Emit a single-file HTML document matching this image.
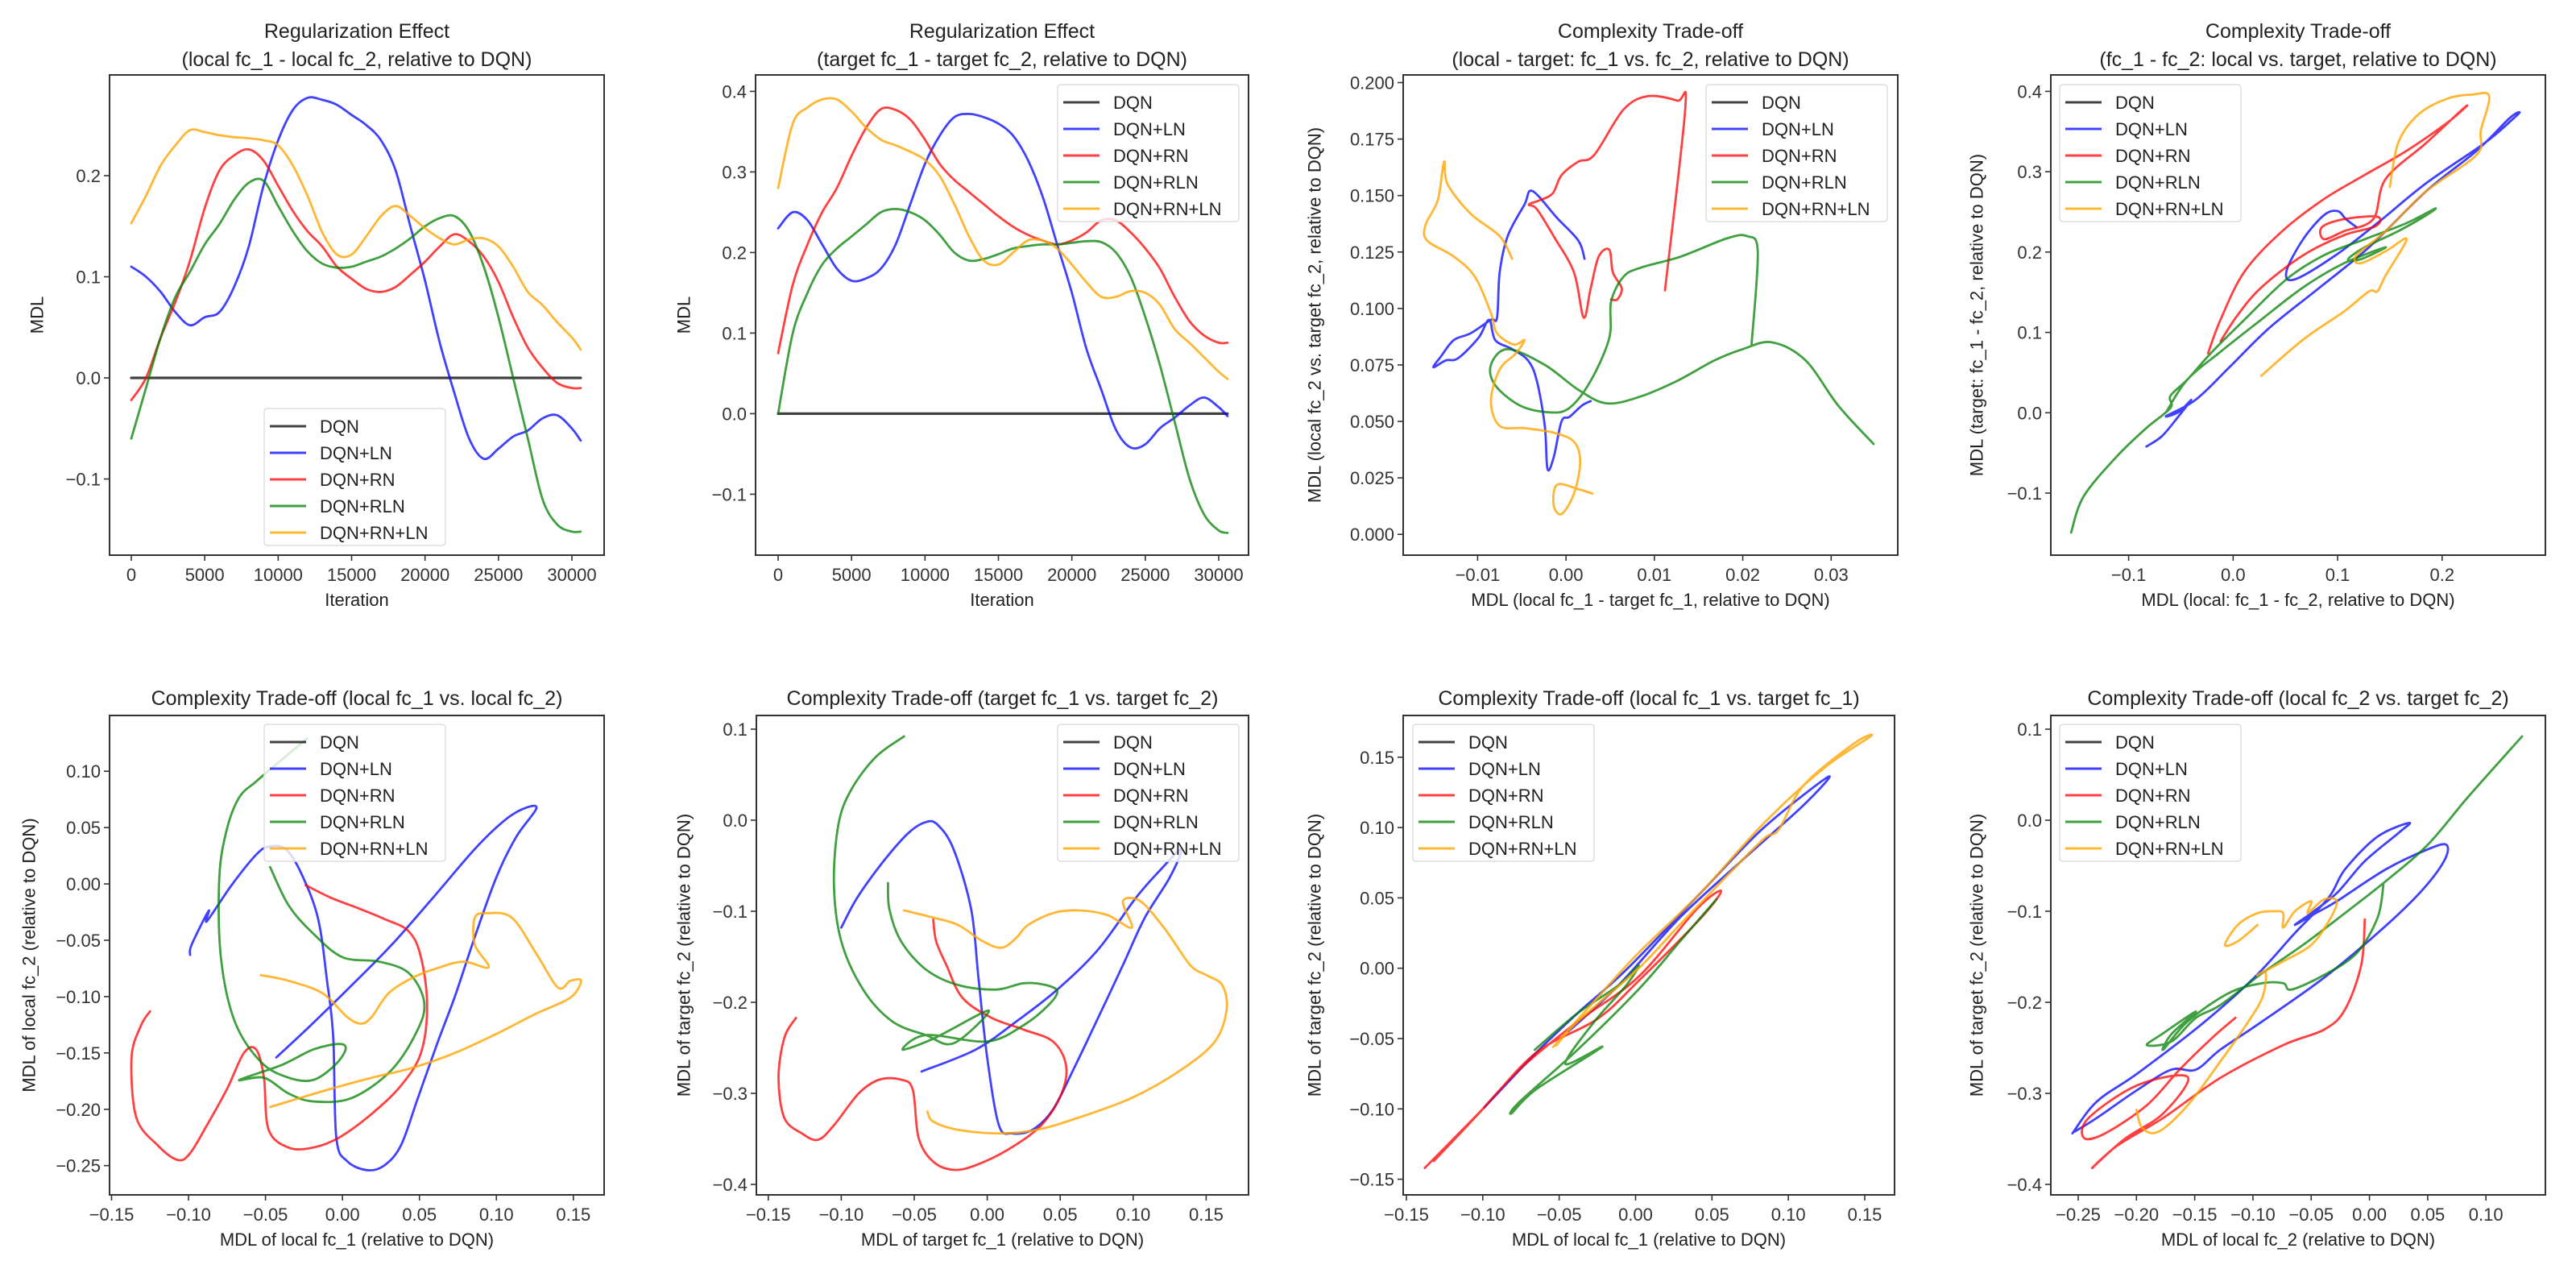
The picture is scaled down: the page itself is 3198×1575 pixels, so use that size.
<!DOCTYPE html>
<html><head><meta charset="utf-8">
<style>
html,body{margin:0;padding:0;background:#fff;}
svg{display:block;font-family:"Liberation Sans","DejaVu Sans",sans-serif;}
</style></head>
<body>
<svg id="fig" width="3198" height="1575" viewBox="0 0 3198 1575" xmlns="http://www.w3.org/2000/svg"></svg>
<script>
// ---------- data ----------
const seriesNames = ["DQN","DQN+LN","DQN+RN","DQN+RLN","DQN+RN+LN"];
const iterations = [0,1000,2000,3000,4000,5000,6000,7000,8000,9000,10000,11000,12000,13000,14000,15000,16000,17000,18000,19000,20000,21000,22000,23000,24000,25000,26000,27000,28000,29000,30000,30600];

// Panel 1: local fc_1 - local fc_2
const p1DQN  = iterations.map(()=>0);
const p1LN   = [0.11,0.10,0.085,0.065,0.052,0.06,0.065,0.09,0.13,0.19,0.235,0.265,0.277,0.275,0.27,0.26,0.25,0.235,0.205,0.15,0.096,0.035,-0.015,-0.06,-0.08,-0.07,-0.058,-0.052,-0.04,-0.037,-0.05,-0.062];
const p1RN   = [-0.022,0.0,0.04,0.075,0.116,0.168,0.205,0.22,0.226,0.215,0.19,0.165,0.145,0.13,0.11,0.098,0.088,0.085,0.09,0.102,0.115,0.13,0.142,0.135,0.12,0.095,0.06,0.03,0.01,-0.005,-0.01,-0.01];
const p1RLN  = [-0.06,-0.01,0.04,0.08,0.105,0.132,0.152,0.176,0.193,0.195,0.17,0.145,0.125,0.113,0.109,0.11,0.115,0.12,0.128,0.138,0.15,0.158,0.16,0.145,0.11,0.06,0.0,-0.06,-0.12,-0.145,-0.152,-0.152];
const p1RNLN = [0.153,0.18,0.21,0.23,0.245,0.243,0.24,0.238,0.237,0.235,0.23,0.21,0.18,0.144,0.122,0.122,0.14,0.16,0.17,0.16,0.148,0.138,0.132,0.137,0.138,0.13,0.11,0.085,0.072,0.055,0.04,0.028];

// Panel 2: target fc_1 - target fc_2
const p2DQN  = iterations.map(()=>0);
const p2LN   = [0.23,0.25,0.24,0.21,0.18,0.165,0.168,0.18,0.21,0.26,0.31,0.345,0.368,0.372,0.368,0.36,0.345,0.315,0.27,0.21,0.15,0.08,0.03,-0.02,-0.042,-0.038,-0.018,-0.005,0.01,0.02,0.008,-0.003];
const p2RN   = [0.075,0.16,0.21,0.25,0.28,0.32,0.355,0.378,0.377,0.365,0.34,0.31,0.29,0.275,0.26,0.245,0.232,0.222,0.215,0.21,0.215,0.225,0.24,0.24,0.225,0.205,0.18,0.145,0.115,0.097,0.088,0.088];
const p2RLN  = [0.0,0.1,0.15,0.185,0.205,0.22,0.235,0.25,0.254,0.25,0.24,0.222,0.2,0.19,0.192,0.198,0.205,0.208,0.21,0.21,0.212,0.214,0.213,0.2,0.17,0.12,0.06,-0.01,-0.08,-0.125,-0.145,-0.148];
const p2RNLN = [0.28,0.36,0.38,0.39,0.39,0.375,0.355,0.34,0.333,0.325,0.315,0.295,0.26,0.22,0.19,0.185,0.2,0.215,0.215,0.205,0.185,0.163,0.145,0.145,0.152,0.15,0.135,0.105,0.088,0.07,0.052,0.043];

// Panel 3: local-target fc_1 vs fc_2
const p3LN = [[0.0021,0.122],[0.0014,0.130],[-0.001,0.140],[-0.0038,0.152],[-0.0047,0.146],[-0.0066,0.132],[-0.0075,0.116],[-0.0078,0.096],[-0.0085,0.095],[-0.0108,0.089],[-0.0127,0.086],[-0.0141,0.079],[-0.015,0.074],[-0.0136,0.077],[-0.0122,0.078],[-0.0099,0.087],[-0.0087,0.095],[-0.008,0.086],[-0.0061,0.082],[-0.0043,0.077],[-0.0033,0.068],[-0.0024,0.048],[-0.0021,0.029],[-0.0014,0.034],[-0.0005,0.050],[0.0004,0.052],[0.0018,0.057],[0.0028,0.059]];
const p3RN = [[0.0112,0.108],[0.0135,0.189],[0.0126,0.192],[0.0093,0.194],[0.0065,0.188],[0.0032,0.168],[0.0014,0.165],[-0.0005,0.159],[-0.0015,0.151],[-0.0029,0.148],[-0.0042,0.146],[-0.0033,0.144],[-0.0014,0.132],[0.0009,0.116],[0.002,0.096],[0.0028,0.109],[0.0037,0.123],[0.0049,0.126],[0.0053,0.116],[0.0063,0.109],[0.0058,0.104],[0.0051,0.104]];
const p3RLN = [[0.021,0.084],[0.0217,0.125],[0.0205,0.132],[0.0182,0.131],[0.013,0.123],[0.0084,0.118],[0.0065,0.114],[0.0051,0.103],[0.0049,0.087],[0.0028,0.068],[0.0004,0.056],[-0.0019,0.054],[-0.0052,0.057],[-0.008,0.066],[-0.0085,0.075],[-0.0066,0.082],[-0.0024,0.075],[0.0014,0.064],[0.0046,0.058],[0.0084,0.061],[0.0126,0.068],[0.0168,0.077],[0.02,0.082],[0.0233,0.085],[0.0271,0.077],[0.0308,0.057],[0.0348,0.040]];
const p3RNLN = [[-0.0061,0.122],[-0.0075,0.132],[-0.0108,0.142],[-0.0134,0.155],[-0.0138,0.165],[-0.0145,0.148],[-0.0159,0.137],[-0.0157,0.130],[-0.0127,0.123],[-0.0103,0.114],[-0.0085,0.098],[-0.0078,0.089],[-0.0059,0.084],[-0.0047,0.086],[-0.0057,0.080],[-0.0075,0.073],[-0.0085,0.059],[-0.0075,0.048],[-0.0047,0.047],[-0.0014,0.045],[0.0009,0.041],[0.0016,0.032],[0.0009,0.018],[-0.0005,0.009],[-0.0014,0.013],[-0.001,0.022],[0.0014,0.020],[0.003,0.018]];

// Panel 4: fc_1-fc_2 local vs target
const p4LN = [[-0.083,-0.042],[-0.068,-0.029],[-0.052,-0.004],[-0.04,0.016],[-0.052,0.001],[-0.064,-0.004],[-0.036,0.016],[-0.004,0.056],[0.035,0.106],[0.083,0.156],[0.13,0.206],[0.185,0.276],[0.233,0.326],[0.264,0.366],[0.274,0.374],[0.268,0.366],[0.241,0.336],[0.185,0.286],[0.138,0.236],[0.098,0.196],[0.059,0.166],[0.051,0.176],[0.067,0.216],[0.087,0.246],[0.1,0.251],[0.108,0.241],[0.118,0.231]];
const p4RN = [[-0.024,0.074],[-0.012,0.116],[0.011,0.176],[0.047,0.226],[0.087,0.266],[0.126,0.296],[0.166,0.326],[0.205,0.361],[0.223,0.381],[0.218,0.376],[0.185,0.336],[0.146,0.291],[0.134,0.241],[0.106,0.226],[0.087,0.216],[0.085,0.231],[0.106,0.241],[0.138,0.244],[0.136,0.232],[0.106,0.221],[0.067,0.196],[0.027,0.156],[0.004,0.121],[-0.012,0.089]];
const p4RLN = [[-0.155,-0.149],[-0.143,-0.104],[-0.111,-0.054],[-0.083,-0.019],[-0.06,0.006],[-0.06,0.021],[-0.044,0.041],[-0.02,0.076],[0.011,0.116],[0.051,0.166],[0.087,0.196],[0.126,0.216],[0.166,0.236],[0.193,0.254],[0.185,0.246],[0.158,0.226],[0.126,0.206],[0.11,0.191],[0.122,0.191],[0.146,0.206],[0.106,0.186],[0.067,0.156],[0.027,0.116],[-0.012,0.076],[-0.044,0.041],[-0.064,0.001]];
const p4RNLN = [[0.027,0.046],[0.067,0.091],[0.106,0.126],[0.13,0.151],[0.138,0.151],[0.146,0.171],[0.166,0.216],[0.146,0.201],[0.122,0.186],[0.118,0.196],[0.146,0.226],[0.185,0.276],[0.233,0.321],[0.237,0.351],[0.245,0.394],[0.229,0.396],[0.205,0.391],[0.177,0.371],[0.158,0.336],[0.150,0.281]];

// Panel 5: local fc_1 vs local fc_2
const p5LN = [[-0.099,-0.063],[-0.098,-0.054],[-0.087,-0.024],[-0.088,-0.033],[-0.072,-0.001],[-0.056,0.026],[-0.048,0.033],[-0.037,0.031],[-0.027,0.010],[-0.016,-0.030],[-0.010,-0.086],[-0.006,-0.136],[-0.004,-0.225],[0.003,-0.246],[0.016,-0.254],[0.027,-0.25],[0.038,-0.232],[0.049,-0.19],[0.062,-0.14],[0.073,-0.1],[0.086,-0.047],[0.1,0.006],[0.113,0.042],[0.126,0.067],[0.118,0.067],[0.105,0.056],[0.086,0.031],[0.059,-0.012],[0.032,-0.054],[0.006,-0.09],[-0.021,-0.126],[-0.043,-0.154]];
const p5RN = [[-0.125,-0.113],[-0.131,-0.126],[-0.137,-0.154],[-0.134,-0.207],[-0.12,-0.232],[-0.107,-0.245],[-0.099,-0.239],[-0.088,-0.214],[-0.075,-0.182],[-0.064,-0.150],[-0.056,-0.147],[-0.051,-0.172],[-0.048,-0.218],[-0.035,-0.234],[-0.019,-0.234],[-0.002,-0.225],[0.019,-0.204],[0.038,-0.179],[0.051,-0.15],[0.055,-0.108],[0.051,-0.065],[0.043,-0.042],[0.027,-0.031],[0.011,-0.022],[-0.008,-0.012],[-0.024,-0.001]];
const p5RLN = [[-0.023,0.129],[-0.037,0.113],[-0.056,0.091],[-0.067,0.077],[-0.075,0.049],[-0.08,0.006],[-0.079,-0.065],[-0.07,-0.122],[-0.053,-0.158],[-0.035,-0.172],[-0.019,-0.174],[-0.005,-0.161],[0.002,-0.147],[-0.002,-0.142],[-0.019,-0.147],[-0.04,-0.161],[-0.067,-0.174],[-0.051,-0.172],[-0.035,-0.186],[-0.019,-0.193],[0.006,-0.19],[0.032,-0.165],[0.049,-0.129],[0.053,-0.104],[0.043,-0.079],[0.024,-0.069],[0.0,-0.065],[-0.019,-0.044],[-0.035,-0.019],[-0.047,0.015]];
const p5RNLN = [[-0.053,-0.081],[-0.035,-0.086],[-0.013,-0.097],[0.003,-0.118],[0.012,-0.124],[0.019,-0.118],[0.03,-0.097],[0.046,-0.083],[0.059,-0.076],[0.078,-0.069],[0.095,-0.074],[0.086,-0.054],[0.086,-0.03],[0.094,-0.026],[0.11,-0.03],[0.126,-0.062],[0.14,-0.092],[0.148,-0.086],[0.155,-0.086],[0.148,-0.101],[0.126,-0.115],[0.1,-0.133],[0.073,-0.15],[0.046,-0.163],[0.019,-0.172],[-0.008,-0.182],[-0.035,-0.193],[-0.047,-0.198]];

// Panel 6: target fc_1 vs target fc_2
const p6LN = [[-0.1,-0.118],[-0.089,-0.085],[-0.071,-0.045],[-0.054,-0.014],[-0.042,-0.002],[-0.034,-0.005],[-0.023,-0.032],[-0.011,-0.098],[-0.006,-0.173],[0.0,-0.261],[0.008,-0.335],[0.017,-0.344],[0.031,-0.34],[0.045,-0.318],[0.059,-0.274],[0.076,-0.217],[0.093,-0.159],[0.108,-0.107],[0.125,-0.063],[0.133,-0.032],[0.119,-0.054],[0.102,-0.085],[0.076,-0.142],[0.048,-0.186],[0.02,-0.221],[-0.008,-0.252],[-0.045,-0.276]];
const p6RN = [[-0.131,-0.217],[-0.139,-0.239],[-0.143,-0.283],[-0.139,-0.327],[-0.127,-0.344],[-0.116,-0.351],[-0.105,-0.335],[-0.088,-0.3],[-0.074,-0.285],[-0.059,-0.285],[-0.051,-0.296],[-0.047,-0.349],[-0.037,-0.375],[-0.023,-0.384],[-0.008,-0.379],[0.014,-0.362],[0.037,-0.335],[0.051,-0.3],[0.054,-0.269],[0.045,-0.243],[0.025,-0.23],[0.003,-0.217],[-0.017,-0.195],[-0.028,-0.159],[-0.035,-0.133],[-0.037,-0.109]];
const p6RLN = [[-0.057,0.092],[-0.076,0.07],[-0.093,0.034],[-0.102,-0.005],[-0.105,-0.071],[-0.1,-0.133],[-0.085,-0.186],[-0.065,-0.221],[-0.042,-0.236],[-0.023,-0.245],[0.001,-0.209],[-0.037,-0.24],[-0.058,-0.252],[-0.042,-0.236],[0.0,-0.243],[0.025,-0.225],[0.042,-0.203],[0.048,-0.188],[0.04,-0.181],[0.025,-0.179],[0.006,-0.186],[-0.02,-0.181],[-0.042,-0.164],[-0.059,-0.133],[-0.067,-0.098],[-0.068,-0.069]];
const p6RNLN = [[-0.057,-0.099],[-0.037,-0.107],[-0.02,-0.115],[-0.003,-0.133],[0.01,-0.14],[0.02,-0.129],[0.028,-0.115],[0.045,-0.102],[0.062,-0.099],[0.082,-0.104],[0.099,-0.118],[0.093,-0.089],[0.105,-0.089],[0.122,-0.12],[0.139,-0.159],[0.15,-0.17],[0.161,-0.181],[0.164,-0.208],[0.156,-0.243],[0.133,-0.274],[0.099,-0.305],[0.062,-0.327],[0.034,-0.34],[0.008,-0.344],[-0.02,-0.34],[-0.037,-0.331],[-0.041,-0.32]];

// Panel 7: local fc_1 vs target fc_1
const p7LN = [[-0.099,-0.099],[-0.065,-0.06],[-0.038,-0.032],[-0.006,-0.001],[0.043,0.054],[0.083,0.099],[0.126,0.136],[0.11,0.116],[0.069,0.076],[0.029,0.036],[-0.011,-0.012],[-0.044,-0.045]];
const p7RN = [[-0.138,-0.142],[-0.1,-0.1],[-0.065,-0.06],[-0.025,-0.036],[0.002,-0.009],[0.043,0.036],[0.056,0.055],[0.04,0.042],[0.002,-0.006],[-0.038,-0.038],[-0.076,-0.072],[-0.105,-0.106],[-0.132,-0.137]];
const p7RLN = [[-0.066,-0.058],[-0.038,-0.032],[-0.011,-0.012],[0.002,0.002],[-0.006,-0.012],[-0.027,-0.038],[-0.046,-0.068],[-0.022,-0.056],[-0.065,-0.086],[-0.081,-0.103],[-0.076,-0.095],[-0.038,-0.058],[0.002,-0.015],[0.029,0.019],[0.053,0.049]];
const p7RNLN = [[-0.054,-0.056],[-0.025,-0.021],[0.002,0.011],[0.043,0.054],[0.083,0.102],[0.123,0.142],[0.154,0.165],[0.142,0.159],[0.11,0.130],[0.094,0.099],[0.085,0.093],[0.069,0.076],[0.029,0.031],[0.002,0.0],[-0.038,-0.038],[-0.052,-0.055]];

// Panel 8: local fc_2 vs target fc_2
const p8LN = [[-0.255,-0.344],[-0.234,-0.309],[-0.199,-0.278],[-0.145,-0.225],[-0.099,-0.173],[-0.064,-0.124],[-0.035,-0.085],[-0.021,-0.054],[0.007,-0.018],[0.034,-0.003],[0.025,-0.014],[-0.004,-0.045],[-0.028,-0.08],[-0.05,-0.102],[-0.064,-0.115],[-0.046,-0.102],[-0.028,-0.089],[0.014,-0.054],[0.05,-0.032],[0.066,-0.027],[0.064,-0.045],[0.043,-0.08],[0.007,-0.124],[-0.039,-0.173],[-0.092,-0.221],[-0.128,-0.252],[-0.149,-0.274],[-0.17,-0.274],[-0.199,-0.296],[-0.234,-0.327],[-0.253,-0.342]];
const p8RN = [[-0.004,-0.109],[-0.007,-0.159],[-0.021,-0.208],[-0.039,-0.23],[-0.074,-0.247],[-0.128,-0.283],[-0.177,-0.327],[-0.216,-0.357],[-0.238,-0.382],[-0.21,-0.35],[-0.177,-0.322],[-0.156,-0.282],[-0.199,-0.291],[-0.241,-0.327],[-0.245,-0.349],[-0.227,-0.344],[-0.191,-0.313],[-0.163,-0.274],[-0.135,-0.239],[-0.115,-0.217]];
const p8RLN = [[0.131,0.092],[0.085,0.026],[0.05,-0.027],[0.014,-0.067],[-0.021,-0.102],[-0.057,-0.137],[-0.092,-0.168],[-0.128,-0.203],[-0.149,-0.217],[-0.17,-0.243],[-0.191,-0.247],[-0.177,-0.234],[-0.149,-0.21],[-0.17,-0.235],[-0.177,-0.252],[-0.156,-0.221],[-0.121,-0.19],[-0.092,-0.179],[-0.074,-0.179],[-0.067,-0.186],[-0.039,-0.17],[-0.011,-0.146],[0.007,-0.107],[0.012,-0.071]];
const p8RNLN = [[-0.2,-0.318],[-0.195,-0.338],[-0.181,-0.342],[-0.156,-0.313],[-0.128,-0.265],[-0.106,-0.225],[-0.092,-0.195],[-0.089,-0.168],[-0.096,-0.17],[-0.074,-0.155],[-0.05,-0.137],[-0.035,-0.111],[-0.028,-0.089],[-0.039,-0.087],[-0.053,-0.102],[-0.05,-0.089],[-0.064,-0.1],[-0.074,-0.118],[-0.074,-0.102],[-0.082,-0.1],[-0.096,-0.102],[-0.113,-0.115],[-0.124,-0.137],[-0.113,-0.133],[-0.096,-0.115]];

// Ticks
const xtIter = [0,5000,10000,15000,20000,25000,30000];
const xtIterLbl = ["0","5000","10000","15000","20000","25000","30000"];
const yt1 = [-0.1,0,0.1,0.2]; const yt1Lbl = ["\u22120.1","0.0","0.1","0.2"];
const yt2 = [-0.1,0,0.1,0.2,0.3,0.4]; const yt2Lbl = ["\u22120.1","0.0","0.1","0.2","0.3","0.4"];
const xt3 = [-0.01,0,0.01,0.02,0.03]; const xt3Lbl = ["\u22120.01","0.00","0.01","0.02","0.03"];
const yt3 = [0,0.025,0.05,0.075,0.1,0.125,0.15,0.175,0.2]; const yt3Lbl = ["0.000","0.025","0.050","0.075","0.100","0.125","0.150","0.175","0.200"];
const xt4 = [-0.1,0,0.1,0.2]; const xt4Lbl = ["\u22120.1","0.0","0.1","0.2"];
const xt15 = [-0.15,-0.1,-0.05,0,0.05,0.1,0.15]; const xt15Lbl = ["\u22120.15","\u22120.10","\u22120.05","0.00","0.05","0.10","0.15"];
const yt5 = [-0.25,-0.2,-0.15,-0.1,-0.05,0,0.05,0.1]; const yt5Lbl = ["\u22120.25","\u22120.20","\u22120.15","\u22120.10","\u22120.05","0.00","0.05","0.10"];
const yt6 = [-0.4,-0.3,-0.2,-0.1,0,0.1]; const yt6Lbl = ["\u22120.4","\u22120.3","\u22120.2","\u22120.1","0.0","0.1"];
const yt7 = [-0.15,-0.1,-0.05,0,0.05,0.1,0.15]; const yt7Lbl = ["\u22120.15","\u22120.10","\u22120.05","0.00","0.05","0.10","0.15"];
const xt8 = [-0.25,-0.2,-0.15,-0.1,-0.05,0,0.05,0.1]; const xt8Lbl = ["\u22120.25","\u22120.20","\u22120.15","\u22120.10","\u22120.05","0.00","0.05","0.10"];

// ---------- rendering ----------
const NS = "http://www.w3.org/2000/svg";
const svg = document.getElementById("fig");
const COLORS = ["rgba(0,0,0,0.75)","rgba(0,0,255,0.75)","rgba(255,0,0,0.75)","rgba(0,128,0,0.75)","rgba(255,165,0,0.8)"];
const SLUG = ["dqn","dqn-ln","dqn-rn","dqn-rln","dqn-rn-ln"];
function mk(tag, attrs, parent){ const e=document.createElementNS(NS,tag); for(const k in attrs) e.setAttribute(k,attrs[k]); (parent||svg).appendChild(e); return e; }
function lin(v1,p1,v2,p2){ return v=>p1+(v-v1)*(p2-p1)/(v2-v1); }
function smoothPath(P){
  if(P.length<3) return P.map((p,i)=>(i?"L":"M")+p[0].toFixed(1)+" "+p[1].toFixed(1)).join("");
  let d="M"+P[0][0].toFixed(1)+" "+P[0][1].toFixed(1);
  const t=0.5/3;
  for(let i=0;i<P.length-1;i++){
    const p0=P[Math.max(0,i-1)], p1=P[i], p2=P[i+1], p3=P[Math.min(P.length-1,i+2)];
    const c1x=p1[0]+(p2[0]-p0[0])*t, c1y=p1[1]+(p2[1]-p0[1])*t;
    const c2x=p2[0]-(p3[0]-p1[0])*t, c2y=p2[1]-(p3[1]-p1[1])*t;
    d+="C"+c1x.toFixed(1)+" "+c1y.toFixed(1)+" "+c2x.toFixed(1)+" "+c2y.toFixed(1)+" "+p2[0].toFixed(1)+" "+p2[1].toFixed(1);
  }
  return d;
}

const TOP=[93,689], BOT=[888,1483];
const panels = [
 {id:"p1", fx:[136,750], fy:TOP, sx:lin(0,163,30000,710), sy:lin(0,469,0.2,218),
  title:["Regularization Effect","(local fc_1 - local fc_2, relative to DQN)"], xl:"Iteration", yl:"MDL", ylx:46,
  xt:xtIter, xtl:xtIterLbl, yt:yt1, ytl:yt1Lbl, leg:[328,507],
  line:[p1DQN,p1LN,p1RN,p1RLN,p1RNLN]},
 {id:"p2", fx:[938,1550], fy:TOP, sx:lin(0,966,30000,1513), sy:lin(0,513.4,0.4,113.4),
  title:["Regularization Effect","(target fc_1 - target fc_2, relative to DQN)"], xl:"Iteration", yl:"MDL", ylx:849,
  xt:xtIter, xtl:xtIterLbl, yt:yt2, ytl:yt2Lbl, leg:[1313,105],
  line:[p2DQN,p2LN,p2RN,p2RLN,p2RNLN]},
 {id:"p3", fx:[1742,2356], fy:TOP, sx:lin(-0.01,1834.4,0.03,2273.3), sy:lin(0,663.2,0.2,102.5),
  title:["Complexity Trade-off","(local - target: fc_1 vs. fc_2, relative to DQN)"], xl:"MDL (local fc_1 - target fc_1, relative to DQN)", yl:"MDL (local fc_2 vs. target fc_2, relative to DQN)", ylx:1632,
  xt:xt3, xtl:xt3Lbl, yt:yt3, ytl:yt3Lbl, leg:[2118,105],
  pts:[null,p3LN,p3RN,p3RLN,p3RNLN]},
 {id:"p4", fx:[2546,3160], fy:TOP, sx:lin(-0.1,2642.6,0.2,3031.8), sy:lin(-0.1,612,0.4,113.4),
  title:["Complexity Trade-off","(fc_1 - fc_2: local vs. target, relative to DQN)"], xl:"MDL (local: fc_1 - fc_2, relative to DQN)", yl:"MDL (target: fc_1 - fc_2, relative to DQN)", ylx:2454,
  xt:xt4, xtl:xt4Lbl, yt:yt2, ytl:yt2Lbl, leg:[2557,105],
  pts:[null,p4LN,p4RN,p4RLN,p4RNLN]},
 {id:"p5", fx:[136,750], fy:BOT, sx:lin(-0.15,138.5,0.15,711.8), sy:lin(0.1,957.2,-0.25,1446.7),
  title:["Complexity Trade-off (local fc_1 vs. local fc_2)"], xl:"MDL of local fc_1 (relative to DQN)", yl:"MDL of local fc_2 (relative to DQN)", ylx:36,
  xt:xt15, xtl:xt15Lbl, yt:yt5, ytl:yt5Lbl, leg:[328,899],
  pts:[null,p5LN,p5RN,p5RLN,p5RNLN]},
 {id:"p6", fx:[939,1550], fy:BOT, sx:lin(-0.15,953.8,0.15,1497.4), sy:lin(0.1,905,-0.4,1470),
  title:["Complexity Trade-off (target fc_1 vs. target fc_2)"], xl:"MDL of target fc_1 (relative to DQN)", yl:"MDL of target fc_2 (relative to DQN)", ylx:849,
  xt:xt15, xtl:xt15Lbl, yt:yt6, ytl:yt6Lbl, leg:[1313,899],
  pts:[null,p6LN,p6RN,p6RLN,p6RNLN]},
 {id:"p7", fx:[1742,2352], fy:BOT, sx:lin(-0.15,1746,0.15,2315), sy:lin(0.15,939.8,-0.15,1463.6),
  title:["Complexity Trade-off (local fc_1 vs. target fc_1)"], xl:"MDL of local fc_1 (relative to DQN)", yl:"MDL of target fc_2 (relative to DQN)", ylx:1632,
  xt:xt15, xtl:xt15Lbl, yt:yt7, ytl:yt7Lbl, leg:[1754,899],
  pts:[null,p7LN,p7RN,p7RLN,p7RNLN]},
 {id:"p8", fx:[2546,3160], fy:BOT, sx:lin(-0.25,2580,0.10,3086.2), sy:lin(0.1,905,-0.4,1470),
  title:["Complexity Trade-off (local fc_2 vs. target fc_2)"], xl:"MDL of local fc_2 (relative to DQN)", yl:"MDL of target fc_2 (relative to DQN)", ylx:2454,
  xt:xt8, xtl:xt8Lbl, yt:yt6, ytl:yt6Lbl, leg:[2557,899],
  pts:[null,p8LN,p8RN,p8RLN,p8RNLN]}
];

panels.forEach(p=>{
  const g = mk("g",{});
  
  
  const [x0,x1]=p.fx, [y0,y1]=p.fy, cx=(x0+x1)/2;
  const isTop = y0<400;
  p.title.forEach((t,i)=>{
    const e = mk("text",{x:cx, y:isTop?(47+i*35):875, "text-anchor":"middle","font-size":"25","fill":"#222"}, g);
    e.textContent=t;
    
    
  });
  const clip = mk("clipPath",{id:"c"+p.id}, g);
  mk("rect",{x:x0,y:y0,width:x1-x0,height:y1-y0}, clip);
  const sg = mk("g",{"clip-path":"url(#c"+p.id+")"}, g);
  for(let s=0;s<5;s++){
    let P=null;
    if(p.line){
      P = p.line[s].map((v,i)=>[p.sx(iterations[i]), p.sy(v)]);
    } else if(p.pts[s]){
      P = p.pts[s].map(pt=>[p.sx(pt[0]), p.sy(pt[1])]);
    }
    if(!P) continue;
    const path = mk("path",{d:smoothPath(P), fill:"none", stroke:COLORS[s], "stroke-width": s===0?3.2:2.8, "stroke-linejoin":"round","stroke-linecap":"round"}, sg);
    
    
  }
  const fr = mk("rect",{x:x0,y:y0,width:x1-x0,height:y1-y0,fill:"none",stroke:"#333","stroke-width":2}, g);
  
  
  p.xt.forEach((v,i)=>{
    const X=p.sx(v);
    mk("line",{x1:X,x2:X,y1:y1,y2:y1+7,stroke:"#333","stroke-width":1.6}, g);
    const t = mk("text",{x:X,y:y1+32,"text-anchor":"middle","font-size":"22","fill":"#333"}, g);
    t.textContent=p.xtl[i];
    
    
  });
  p.yt.forEach((v,i)=>{
    const Y=p.sy(v);
    mk("line",{x1:x0-7,x2:x0,y1:Y,y2:Y,stroke:"#333","stroke-width":1.6}, g);
    const t = mk("text",{x:x0-11,y:Y+8,"text-anchor":"end","font-size":"22","fill":"#333"}, g);
    t.textContent=p.ytl[i];
    
    
  });
  const xl = mk("text",{x:cx,y:y1+63,"text-anchor":"middle","font-size":"22","fill":"#222"}, g);
  xl.textContent=p.xl;
  
  
  const ym=(y0+y1)/2;
  const yl = mk("text",{x:p.ylx,y:ym,"text-anchor":"middle","font-size":"22","fill":"#222",transform:"rotate(-90 "+p.ylx+" "+ym+")","dominant-baseline":"central"}, g);
  yl.textContent=p.yl;
  
  
  const [lx,ly]=p.leg;
  const lg = mk("g",{}, g);
  
  
  mk("rect",{x:lx,y:ly,width:225,height:170,rx:4,fill:"rgba(255,255,255,0.8)",stroke:"#ddd","stroke-width":1.5}, lg);
  for(let s=0;s<5;s++){
    const ey = ly+22+33*s;
    const ent = mk("g",{}, lg);
    
    
    mk("line",{x1:lx+7,x2:lx+52,y1:ey,y2:ey,stroke:COLORS[s],"stroke-width":3}, ent);
    const t = mk("text",{x:lx+69,y:ey+8,"font-size":"22","fill":"#222"}, ent);
    t.textContent=seriesNames[s];
  }
});
</script>
</body></html>
